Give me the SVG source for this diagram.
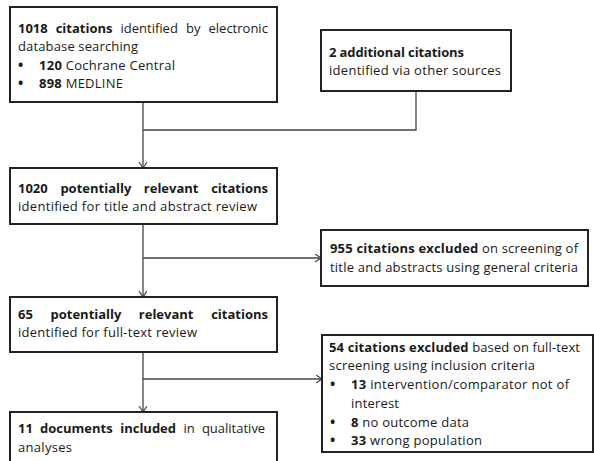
<svg xmlns="http://www.w3.org/2000/svg" width="594" height="461" viewBox="0 0 594 461">
<style>
.box{fill:#fff;stroke:#222;stroke-width:2}
.con{fill:none;stroke:#444;stroke-width:1.3}
text{font-family:"Open Sans","Noto Sans",sans-serif;font-size:13px;fill:#1a1a1a}
.b{font-weight:bold}
.bul{font-weight:bold;font-size:14px}
</style>
<defs>
<marker id="arr" markerUnits="userSpaceOnUse" markerWidth="10" markerHeight="10" refX="6" refY="4" orient="auto">
<path d="M0,0 L6,4 L0,8" fill="none" stroke="#444" stroke-width="1.2"/>
</marker>
</defs>
<rect width="594" height="461" fill="#fff"/>
<g id="connectors">
<path class="con" d="M143,102 V168" marker-end="url(#arr)"/>
<path class="con" d="M416,91 V130 H143"/>
<path class="con" d="M143,224 V297" marker-end="url(#arr)"/>
<path class="con" d="M143,258 H321" marker-end="url(#arr)"/>
<path class="con" d="M143,352 V412" marker-end="url(#arr)"/>
<path class="con" d="M143,379 H322" marker-end="url(#arr)"/>
</g>
<g id="n1">
<rect class="box" x="10" y="7" width="267" height="95"/>
<text y="33"><tspan class="b" x="18">1018</tspan><tspan class="b" x="55.7">citations</tspan><tspan x="120.5">identified</tspan><tspan x="186">by</tspan><tspan x="208.5">electronic</tspan></text>
<text x="18" y="51" textLength="120" lengthAdjust="spacing">database searching</text>
<text class="bul" x="18" y="70">•</text>
<text x="39" y="70" textLength="136" lengthAdjust="spacing"><tspan class="b">120</tspan> Cochrane Central</text>
<text class="bul" x="18" y="88">•</text>
<text x="39" y="88" textLength="84" lengthAdjust="spacing"><tspan class="b">898</tspan> MEDLINE</text>
</g>
<g id="n2">
<rect class="box" x="321" y="30" width="190" height="61"/>
<text x="329" y="57" textLength="135" lengthAdjust="spacing" class="b">2 additional citations</text>
<text x="329" y="75" textLength="172" lengthAdjust="spacing">identified via other sources</text>
</g>
<g id="n3">
<rect class="box" x="10" y="168" width="267" height="56"/>
<text y="193"><tspan class="b" x="18">1020</tspan><tspan class="b" x="60.4">potentially</tspan><tspan class="b" x="143.8">relevant</tspan><tspan class="b" x="211.2">citations</tspan></text>
<text x="18" y="211" textLength="239" lengthAdjust="spacing">identified for title and abstract review</text>
</g>
<g id="n4">
<rect class="box" x="321" y="230" width="267" height="56"/>
<text x="330" y="253" textLength="248" lengthAdjust="spacing"><tspan class="b">955 citations excluded</tspan> on screening of</text>
<text x="330" y="272" textLength="248" lengthAdjust="spacing">title and abstracts using general criteria</text>
</g>
<g id="n5">
<rect class="box" x="10" y="297" width="267" height="55"/>
<text y="319"><tspan class="b" x="18">65</tspan><tspan class="b" x="50.5">potentially</tspan><tspan class="b" x="138.8">relevant</tspan><tspan class="b" x="211.2">citations</tspan></text>
<text x="18" y="337" textLength="179" lengthAdjust="spacing">identified for full-text review</text>
</g>
<g id="n6">
<rect class="box" x="322" y="335" width="271" height="117"/>
<text x="329" y="352" textLength="251" lengthAdjust="spacing"><tspan class="b">54 citations excluded</tspan> based on full-text</text>
<text x="329" y="370" textLength="206" lengthAdjust="spacing">screening using inclusion criteria</text>
<text class="bul" x="330" y="389">•</text>
<text x="351" y="389" textLength="218" lengthAdjust="spacing"><tspan class="b">13</tspan> intervention/comparator not of</text>
<text x="351" y="408" textLength="48" lengthAdjust="spacing">interest</text>
<text class="bul" x="330" y="427">•</text>
<text x="351" y="427" textLength="118" lengthAdjust="spacing"><tspan class="b">8</tspan> no outcome data</text>
<text class="bul" x="330" y="445">•</text>
<text x="351" y="445" textLength="131" lengthAdjust="spacing"><tspan class="b">33</tspan> wrong population</text>
</g>
<g id="n7">
<rect class="box" x="10" y="412" width="267" height="60"/>
<text y="433"><tspan class="b" x="18">11</tspan><tspan class="b" x="40.1">documents</tspan><tspan class="b" x="120.2">included</tspan><tspan x="183.4">in</tspan><tspan x="201.9">qualitative</tspan></text>
<text x="18" y="452" textLength="54" lengthAdjust="spacing">analyses</text>
</g>
</svg>
